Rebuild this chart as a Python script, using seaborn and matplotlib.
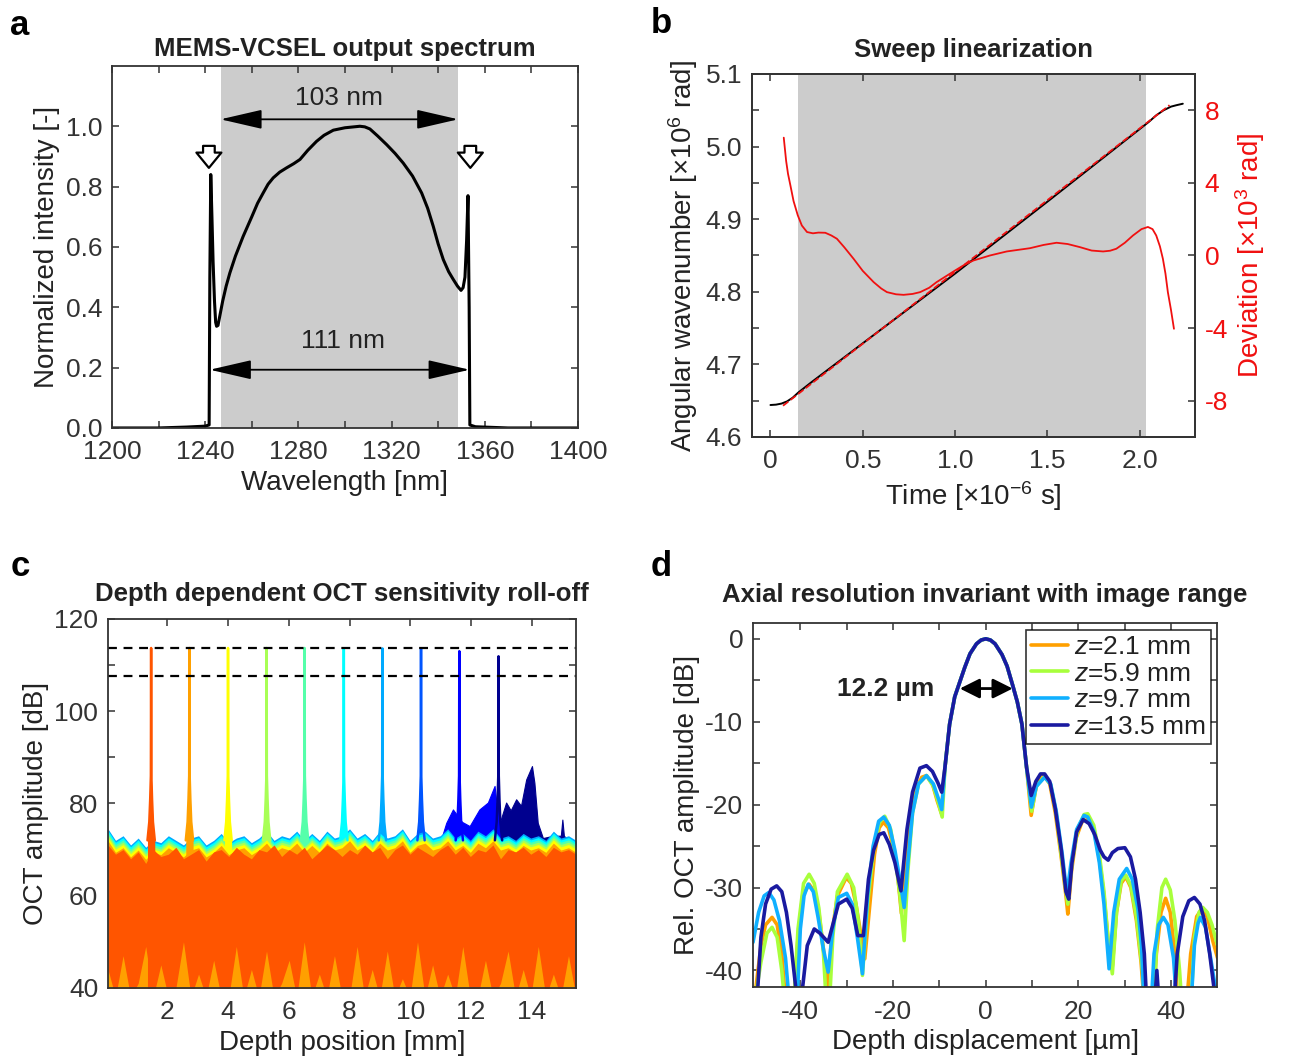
import numpy as np
import pandas as pd
import matplotlib
matplotlib.use("Agg")
import matplotlib.pyplot as plt
import seaborn as sns

# ---------------- data ----------------
# (a) MEMS-VCSEL output spectrum
spec_wl = [1200, 1220, 1232, 1240, 1241.7, 1242.0, 1242.4, 1242.9, 1243.4, 1244.0, 1244.5, 1244.9,
           1245.5, 1246.0, 1247.5, 1249.0, 1250.6, 1253.0, 1256.3, 1260.0, 1262.5, 1264.9, 1267.0,
           1269.2, 1272.0, 1274.9, 1278.0, 1280.7, 1284.0, 1287.8, 1291.0, 1295.0, 1300.0, 1306.4,
           1308.5, 1310.7, 1314.0, 1317.9, 1321.5, 1325.0, 1329.0, 1332.9, 1335.5, 1337.9, 1340.0,
           1342.2, 1344.5, 1346.5, 1348.3, 1349.8, 1350.7, 1351.5, 1352.2, 1352.8, 1353.3, 1353.6,
           1356.0, 1370.0, 1400.0]
spec_int = [0.0, 0.0, 0.003, 0.006, 0.01, 0.50, 0.84, 0.70, 0.55, 0.42, 0.35, 0.337,
            0.34, 0.36, 0.42, 0.47, 0.514, 0.57, 0.635, 0.70, 0.745, 0.779, 0.808,
            0.829, 0.848, 0.862, 0.876, 0.890, 0.92, 0.950, 0.970, 0.987, 0.995, 1.0,
            0.998, 0.991, 0.968, 0.939, 0.91, 0.878, 0.835, 0.779, 0.728, 0.668, 0.61,
            0.558, 0.518, 0.492, 0.47, 0.456, 0.465, 0.50, 0.62, 0.77, 0.40, 0.01,
            0.004, 0.0, 0.0]
shade_a = [1246.6, 1348.6]
span_103 = [1246.6, 1348.6]
span_111 = [1242.0, 1353.5]
marker_wl = [1241.6, 1353.8]

# (b) Sweep linearization
t_wn = [0.0, 0.03, 0.06, 0.09, 0.12, 0.15, 0.18, 0.22, 0.50, 1.00, 1.50, 2.00, 2.05, 2.09,
        2.13, 2.17, 2.20, 2.234]
wn = [4.644, 4.6445, 4.646, 4.649, 4.654, 4.661, 4.667, 4.675, 4.729, 4.825, 4.924, 5.024,
      5.034, 5.043, 5.050, 5.055, 5.057, 5.059]
fit_t = [0.068, 2.162]
fit_wn = [4.643, 5.057]
dev_t = [0.072, 0.085, 0.095, 0.108, 0.125, 0.148, 0.17, 0.198, 0.23, 0.26, 0.297, 0.33, 0.36,
         0.40, 0.45, 0.50, 0.559, 0.60, 0.631, 0.68, 0.721, 0.77, 0.811, 0.86, 0.90, 0.95,
         1.0, 1.05, 1.099, 1.19, 1.28, 1.35, 1.406, 1.48, 1.55, 1.61, 1.676, 1.74, 1.802,
         1.84, 1.874, 1.92, 1.964, 2.01, 2.045, 2.07, 2.09, 2.11, 2.126, 2.14, 2.153, 2.17, 2.186]
dev_val = [6.49, 5.2, 4.5, 3.86, 3.0, 2.21, 1.65, 1.29, 1.22, 1.26, 1.25, 1.1, 0.92,
           0.45, -0.18, -0.85, -1.47, -1.82, -2.02, -2.14, -2.17, -2.12, -2.02, -1.78, -1.47, -1.15,
           -0.83, -0.52, -0.28, 0.0, 0.22, 0.32, 0.40, 0.58, 0.70, 0.63, 0.46, 0.27, 0.22,
           0.26, 0.37, 0.70, 1.10, 1.45, 1.57, 1.45, 1.10, 0.5, -0.18, -1.0, -2.02, -3.0, -4.04]
shade_b = [0.148, 2.032]

# (c) Depth dependent sensitivity roll-off
peak_depth = [1.47, 2.73, 4.00, 5.27, 6.52, 7.81, 9.08, 10.35, 11.61, 12.90]
peak_db = [113.7, 113.7, 113.7, 113.7, 113.7, 113.6, 113.6, 113.5, 113.0, 111.9]
series_colors = ['#ff5500', '#ffa000', '#ffff00', '#a8ff55', '#55ffaa',
                 '#00ffff', '#00aaff', '#0055ff', '#0000ff', '#00008f']
rolloff_db = [113.7, 107.7]
noise_top_main = [71.0, 69.0, 70.0, 68.0, 69.5, 67.0, 70.0, 68.5, 69.0,
                  70.5, 68.0, 69.0, 70.0, 67.5, 69.5, 70.0, 68.5, 70.5,
                  69.0, 68.0, 70.0, 69.5, 71.0, 68.5, 70.0, 69.0, 70.5,
                  68.0, 69.5, 71.0, 70.0, 68.5, 70.0, 69.0, 71.0, 69.5,
                  70.5, 68.0, 70.0, 71.0, 69.0, 70.5, 69.5, 68.5, 70.0,
                  71.0, 69.0, 70.5, 68.5, 70.0, 69.5, 71.0, 68.0, 70.0,
                  69.5, 70.5, 69.0, 70.0, 68.5, 70.5, 69.5, 70.0, 69.0]
noise_top_upper = [74.5, 72.0, 73.0, 71.0, 72.5, 70.5, 72.0, 71.5, 73.0,
                   72.0, 71.0, 72.5, 73.0, 71.0, 72.0, 73.5, 71.5, 72.5,
                   73.0, 71.5, 72.5, 74.0, 72.0, 73.0, 72.5, 74.0, 72.0,
                   73.5, 72.0, 74.0, 72.5, 73.0, 74.5, 72.5, 73.5, 72.0,
                   74.0, 72.5, 73.0, 74.5, 72.0, 73.5, 74.0, 72.5, 73.0,
                   74.5, 72.5, 73.5, 72.0, 74.0, 73.0, 74.5, 72.5, 73.0,
                   72.0, 73.5, 72.5, 73.0, 72.0, 74.0, 72.5, 73.0, 72.0]
noise_low_main = [44, 38, 47, 38, 41, 49, 38, 45, 38,
                  40, 50, 38, 43, 38, 46, 38, 38, 49,
                  38, 44, 38, 48, 38, 41, 46, 38, 50,
                  38, 43, 38, 47, 38, 38, 49, 38, 44,
                  38, 48, 38, 42, 38, 50, 38, 45, 38,
                  43, 38, 49, 38, 38, 46, 38, 41, 48,
                  38, 44, 38, 49, 38, 43, 38, 47, 38]
upper_drop = [0.0, 2.6, 1.9, 1.4, 0.9, 0.4, 0.0, 0.6, 0.3, 1.0]
spike_offsets = [-0.12, -0.06, -0.03, -0.008, 0.0, 0.008, 0.03, 0.06, 0.12]
spike_base_db = [72, 76, 81, 86, None, 86, 81, 76, 72]
blue_bump_depth = [11.0, 11.18, 11.4, 11.7, 11.95, 12.27, 12.55, 12.77, 12.95]
blue_bump_db = [72.0, 75.8, 78.7, 76.0, 75.1, 78.7, 80.2, 83.8, 73.0]
navy_bump_depth = [12.95, 13.15, 13.3, 13.48, 13.64, 13.81, 14.0, 14.08, 14.19, 14.36, 14.7, 14.95,
                   15.0, 15.05, 15.2]
navy_bump_db = [76.0, 80.2, 78.5, 80.9, 79.5, 85.2, 88.1, 84.5, 75.8, 72.5, 73.0, 73.0, 76.5, 73.0, 72.0]

# (d) Axial resolution
ml_x = [-8.8, -7.8, -6.7, -5.6, -4.5, -3.4, -2.0, -1.0, 0.0, 1.0, 2.0, 3.5, 4.6, 5.8, 6.8, 7.8, 8.8]
ml_y = [-15.5, -10.3, -7.0, -5.2, -3.4, -1.8, -0.6, -0.15, 0.0, -0.15, -0.6, -1.9, -3.3, -5.6, -7.6, -10.3, -15.5]

z21_lx = [-50.2, -48.5, -47.5, -46.1, -45.0, -44.0, -43.0, -41.5, -40.5, -39.5, -38.1, -37.0, -36.0,
          -35.0, -34.0, -33.3, -32.0, -30.1, -29.0, -28.0, -27.0, -26.1, -25.0, -24.0, -23.0, -22.1,
          -21.0, -20.0, -19.0, -18.2, -17.0, -16.0, -15.0, -13.8, -12.8, -11.5, -10.5, -9.6]
z21_ly = [-45, -37, -34.5, -33.6, -34.5, -38, -45, -45, -36, -31, -29.6, -30.5, -33,
          -37.5, -43, -36, -31, -28.8, -29.5, -32, -35.5, -38.6, -32, -26, -22.8, -22.1,
          -22.8, -25, -28.5, -33.1, -26, -21, -18, -16.7, -16.5, -17.5, -19.5, -21.0]
z21_rx = [9.8, 10.8, 11.8, 12.7, 13.8, 15.0, 16.2, 17.3, 17.7, 18.5, 19.5, 20.8, 22.0, 23.3, 24.5,
          25.5, 26.5, 27.3, 28.2, 29.2, 30.2, 31.3, 32.5, 33.5, 34.3, 36.0, 36.8, 37.8, 38.8,
          39.8, 40.8, 41.5, 43.2, 44.2, 45.5, 46.6, 47.8, 49.0, 50.0]
z21_ry = [-21.3, -18, -16.7, -16.6, -17.5, -21, -26, -31, -33.2, -28, -24, -22, -21.8, -23, -26.5,
          -31, -37, -39.5, -33, -29.5, -28.7, -30, -34, -39, -45, -45, -38, -33, -31.3,
          -33, -38, -45, -45, -38, -33.5, -32.6, -33.5, -36.5, -38.5]

z59_lx = [-50.2, -48.5, -47.2, -46.1, -45.0, -44.0, -43.2, -41.5, -40.5, -39.3, -38.1, -37.0, -36.0,
          -35.0, -34.3, -33.8, -33.0, -32.0, -29.9, -28.5, -27.5, -26.6, -25.5, -24.2, -23.0,
          -21.8, -20.5, -19.5, -18.5, -17.6, -16.8, -15.8, -14.5, -12.8, -11.3, -10.2, -9.4]
z59_ly = [-45, -39, -35.5, -34.8, -36, -40, -45, -45, -35, -29.5, -28.4, -29.5, -32.5,
          -38, -45, -45, -36, -30.5, -28.4, -30, -34, -40.6, -32, -25.5, -22.2,
          -21.4, -23, -26.5, -31, -36.4, -28, -21, -17.5, -16.5, -17.8, -19.8, -21.5]
z59_rx = [9.9, 10.9, 12.7, 14.0, 15.2, 16.5, 17.7, 18.6, 19.8, 21.2, 22.0, 23.3, 24.5, 25.5,
          26.5, 27.3, 28.2, 29.2, 30.2, 31.3, 32.5, 33.8, 34.5, 36.2, 37.0, 38.0, 38.8, 39.8,
          40.8, 41.8, 42.4, 44.2, 45.0, 46.0, 46.8, 47.8, 48.8, 49.4, 50.0]
z59_ry = [-20.8, -17.8, -16.6, -17.6, -21, -27, -32, -27, -23, -21.2, -21.1, -22.5, -26, -30.5,
          -37, -40.4, -33, -29.2, -28.5, -29.8, -33.5, -40, -45, -45, -35, -30, -29.0, -30.3,
          -34, -40, -45, -45, -36, -33, -32.4, -33, -34.5, -35.8, -37]

z97_lx = [-50.2, -49.0, -47.8, -46.8, -45.7, -44.5, -43.2, -42.2, -40.8, -40.0, -39.2, -38.3,
          -37.2, -36.2, -35.0, -34.0, -33.0, -31.8, -30.0, -28.8, -27.7, -26.6, -25.5, -24.3,
          -23.1, -22.0, -20.8, -19.6, -18.4, -17.6, -16.8, -15.8, -14.5, -12.8, -11.3, -10.2, -9.5]
z97_ly = [-36.6, -33, -31, -30.6, -31.5, -34, -38.5, -45, -45, -35, -31, -29.6,
          -30.5, -33.5, -37.5, -40.2, -35, -31.2, -30.7, -32, -36, -40.4, -31, -25,
          -22, -21.5, -22.5, -25.5, -29.5, -32.4, -27, -21, -17.5, -16.5, -17.5, -19.3, -20.6]
z97_rx = [9.85, 10.9, 12.7, 14.0, 15.2, 16.5, 17.5, 18.4, 19.6, 21.2, 22.0, 23.3, 24.5, 25.5,
          26.6, 27.6, 28.8, 30.4, 31.6, 32.8, 33.6, 34.2, 35.6, 36.3, 37.3, 38.3, 39.3, 40.5,
          41.3, 44.2, 45.0, 45.8, 46.3, 47.4, 48.5, 49.5, 50.0]
z97_ry = [-20.3, -17.8, -16.7, -17.5, -20.8, -26, -30.8, -27, -23, -21.3, -21.5, -23.2, -27, -32,
          -39.8, -33, -29, -27.7, -29, -32.5, -37, -45, -45, -38, -34.5, -33.6, -34.5, -38.5,
          -45, -45, -37, -34.3, -33.6, -34.8, -38.5, -42, -44]

z135_lx = [-50.2, -49.5, -48.5, -47.5, -46.3, -45.1, -44.0, -43.0, -42.0, -41.0, -40.8, -40.2,
           -39.5, -38.5, -37.0, -35.8, -34.0, -33.0, -31.8, -30.0, -28.8, -27.6, -26.4, -25.3,
           -24.2, -23.0, -22.0, -20.8, -19.6, -18.3, -17.0, -15.8, -14.2, -12.8, -11.5, -10.3, -9.5]
z135_ly = [-45, -45, -36, -32, -30.2, -29.8, -30.5, -33, -37, -42, -45, -45,
           -42, -37, -35.0, -35.5, -36.6, -34.5, -32, -31.4, -32.5, -35.8, -35.8, -29,
           -25.5, -23.6, -23.4, -24.8, -27, -30.4, -23, -18.5, -15.6, -15.3, -16, -17.4, -18.5]
z135_rx = [9.8, 10.8, 11.8, 12.7, 13.8, 15.0, 16.3, 17.3, 17.9, 18.6, 19.6, 21.0, 22.3, 23.5,
           24.7, 25.5, 26.4, 27.3, 28.5, 30.0, 31.2, 32.3, 33.3, 34.2, 34.8, 36.3, 36.9, 37.5,
           40.5, 41.3, 42.5, 43.8, 45.0, 46.2, 47.2, 48.3, 49.2, 49.7]
z135_ry = [-18.9, -17.2, -16.3, -16.3, -17.2, -20.5, -25.5, -30.5, -31.4, -27, -23.3, -21.8, -22.3,
           -23.6, -25.5, -26.3, -26.7, -25.8, -25.3, -25.2, -26.3, -29, -33, -38, -45, -45, -40,
           -45, -45, -38, -33.5, -31.6, -31.2, -32, -34, -38, -42, -45]

d_labels = ['$z$=2.1 mm', '$z$=5.9 mm', '$z$=9.7 mm', '$z$=13.5 mm']
d_colors = ['#ffa000', '#a8ff3c', '#10b0ff', '#1a1aa0']
fwhm_span = [-5.6, 5.8]

# ---------------- style ----------------
sns.set_theme(style="white")
plt.rcParams.update({
    'font.family': ['Liberation Sans', 'DejaVu Sans'],
    'font.size': 19,
    'axes.titlesize': 18.5,
    'axes.titleweight': 'bold',
    'axes.titlepad': 7,
    'axes.labelsize': 20,
    'xtick.labelsize': 19,
    'ytick.labelsize': 19,
    'xtick.direction': 'in', 'ytick.direction': 'in',
    'xtick.top': True, 'ytick.right': True,
    'xtick.bottom': True, 'ytick.left': True,
    'xtick.major.size': 5, 'ytick.major.size': 5,
    'xtick.major.width': 1.1, 'ytick.major.width': 1.1,
    'xtick.major.pad': 9, 'ytick.major.pad': 7,
    'axes.edgecolor': '#333333', 'axes.linewidth': 1.3,
    'xtick.color': '#333333', 'ytick.color': '#333333',
    'text.color': '#222222', 'axes.labelcolor': '#222222',
    'mathtext.fontset': 'custom',
    'mathtext.rm': 'Liberation Sans',
    'mathtext.it': 'Liberation Sans:italic',
    'mathtext.bf': 'Liberation Sans:bold',
    'axes.unicode_minus': False,
})

fig = plt.figure(figsize=(12.93, 10.58), dpi=100)
ax_a = fig.add_axes([0.0866, 0.5955, 0.3604, 0.3422])
ax_b = fig.add_axes([0.5816, 0.5870, 0.3426, 0.3431])
ax_c = fig.add_axes([0.0835, 0.0662, 0.3620, 0.3488])
ax_d = fig.add_axes([0.5824, 0.0671, 0.3589, 0.3440])

# ---------------- (a) ----------------
ax_a.axvspan(shade_a[0], shade_a[1], color='#cccccc', lw=0, zorder=0)
sns.lineplot(x=spec_wl, y=spec_int, ax=ax_a, color='black', lw=2.2, sort=False, estimator=None)
ax_a.set_xlim(1200, 1400)
ax_a.set_ylim(0, 1.2)
xt = np.arange(1200, 1401, 20)
ax_a.set_xticks(xt)
ax_a.set_xticklabels([str(v) if v % 40 == 0 else '' for v in xt])
yt = np.arange(0, 1.01, 0.2)
ax_a.set_yticks(yt)
ax_a.set_yticklabels([f'{v:.1f}' for v in yt])
arr = dict(arrowstyle='<|-|>,head_length=1.3,head_width=0.3', mutation_scale=20,
           color='black', lw=1.3, shrinkA=0, shrinkB=0)
ax_a.annotate('', xy=(span_103[0], 1.023), xytext=(span_103[1], 1.023), arrowprops=arr)
ax_a.annotate('', xy=(span_111[0], 0.193), xytext=(span_111[1], 0.193), arrowprops=arr)
ax_a.text(1297.4, 1.095, '103 nm', ha='center', va='center', fontsize=19)
ax_a.text(1299.3, 0.287, '111 nm', ha='center', va='center', fontsize=19)
for wl in marker_wl:
    ax_a.annotate('', xy=(wl, 0.862), xytext=(wl, 0.935),
                  arrowprops=dict(arrowstyle='simple,head_length=0.55,head_width=0.9,tail_width=0.42',
                                  fc='white', ec='black', lw=1.6, mutation_scale=20,
                                  shrinkA=0, shrinkB=0))
ax_a.set_title('MEMS-VCSEL output spectrum', pad=7)
ax_a.set_xlabel('Wavelength [nm]')
ax_a.set_ylabel('Normalized intensity [-]')

# ---------------- (b) ----------------
red = '#f01010'
ax_b.axvspan(shade_b[0], shade_b[1], color='#cccccc', lw=0, zorder=0)
sns.lineplot(x=t_wn, y=wn, ax=ax_b, color='black', lw=1.4, sort=False, estimator=None)
sns.lineplot(x=fit_t, y=fit_wn, ax=ax_b, color=red, lw=1.3, linestyle='--', sort=False, estimator=None)
ax_b.set_xlim(-0.1, 2.3)
ax_b.set_ylim(4.6, 5.1)
ax_b.set_xticks([0, 0.5, 1.0, 1.5, 2.0])
ax_b.set_xticklabels(['0', '0.5', '1.0', '1.5', '2.0'])
ybt = np.arange(4.6, 5.101, 0.1)
ax_b.set_yticks(ybt)
ax_b.set_yticklabels([f'{v:.1f}' for v in ybt])
ax_b.set_title('Sweep linearization', pad=12)
ax_b.set_xlabel(r'Time [×10$^{\mathregular{-6}}$ s]')
ax_b.set_ylabel(r'Angular wavenumber [×10$^{\mathregular{6}}$ rad]')
ax_b2 = ax_b.twinx()
sns.lineplot(x=dev_t, y=dev_val, ax=ax_b2, color=red, lw=1.3, sort=False, estimator=None)
ax_b2.set_ylim(-10, 10)
ax_b2.set_yticks([-8, -4, 0, 4, 8])
ax_b2.set_yticklabels(['-8', '-4', '0', '4', '8'])
ax_b2.tick_params(axis='y', left=True, right=True, labelleft=False, labelright=True,
                  labelcolor=red, direction='in', pad=7)
ax_b2.set_ylabel(r'Deviation [×10$^{\mathregular{3}}$ rad]', color=red)
ax_b2.grid(False)

# ---------------- (c) ----------------
noise_depth = np.linspace(0.05, 15.45, len(noise_top_main))
for i in reversed(range(len(peak_depth))):
    col = series_colors[i]
    if i == 9:
        ax_c.fill_between(navy_bump_depth, 38, navy_bump_db, color=col, lw=0.8, edgecolor=col)
    if i == 8:
        ax_c.fill_between(blue_bump_depth, 38, blue_bump_db, color=col, lw=0.8, edgecolor=col)
    if i == 0:
        ax_c.fill_between(noise_depth, noise_low_main, noise_top_main, color=col, lw=0)
    else:
        ax_c.fill_between(noise_depth, 38, np.array(noise_top_upper) - upper_drop[i],
                          color=col, lw=0)
    sx = [peak_depth[i] + o for o in spike_offsets]
    sy = [peak_db[i] if v is None else v for v in spike_base_db]
    ax_c.fill_between(sx, 38, sy, color=col, lw=0)
    ax_c.plot(sx, sy, color=col, lw=1.8)
for r in rolloff_db:
    ax_c.axhline(r, color='black', lw=1.6, ls=(0, (4, 3)))
ax_c.set_xlim(0.05, 15.45)
ax_c.set_ylim(40, 120)
ax_c.set_xticks(np.arange(2, 15, 2))
yct = np.arange(40, 121, 10)
ax_c.set_yticks(yct)
ax_c.set_yticklabels([str(v) if v % 20 == 0 else '' for v in yct])
ax_c.set_title('Depth dependent OCT sensitivity roll-off', pad=13)
ax_c.set_xlabel('Depth position [mm]')
ax_c.set_ylabel('OCT amplitude [dB]')
for s in ax_c.spines.values():
    s.set_zorder(5)

# ---------------- (d) ----------------
curves = [
    (z21_lx + ml_x + z21_rx, z21_ly + ml_y + z21_ry),
    (z59_lx + ml_x + z59_rx, z59_ly + ml_y + z59_ry),
    (z97_lx + ml_x + z97_rx, z97_ly + ml_y + z97_ry),
    (z135_lx + ml_x + z135_rx, z135_ly + ml_y + z135_ry),
]
frames = []
for lab, (cx, cy) in zip(d_labels, curves):
    frames.append(pd.DataFrame({'x': cx, 'y': cy, 'curve': lab}))
df_d = pd.concat(frames, ignore_index=True)
sns.lineplot(data=df_d, x='x', y='y', hue='curve', hue_order=d_labels,
             palette=dict(zip(d_labels, d_colors)), sort=False, estimator=None,
             lw=2.6, ax=ax_d)
ax_d.set_xlim(-50.2, 49.9)
ax_d.set_ylim(-42, 1.9)
xdt = np.arange(-40, 41, 10)
ax_d.set_xticks(xdt)
ax_d.set_xticklabels([str(v) if v % 20 == 0 else '' for v in xdt])
ydt = np.arange(-40, 1, 5)
ax_d.set_yticks(ydt)
ax_d.set_yticklabels([str(v) if v % 10 == 0 else '' for v in ydt])
ax_d.annotate('', xy=(fwhm_span[0], -6.0), xytext=(fwhm_span[1], -6.0),
              arrowprops=dict(arrowstyle='<|-|>,head_length=0.6,head_width=0.3', mutation_scale=20,
                              color='black', lw=2.0, shrinkA=0, shrinkB=0))
ax_d.text(-21.5, -6.0, '12.2 µm', ha='center', va='center', fontsize=19, fontweight='bold')
leg = ax_d.legend(loc='upper right', bbox_to_anchor=(1.0, 1.0), borderaxespad=0.25,
                  fontsize=19, handlelength=1.4, handletextpad=0.2, labelspacing=0.1,
                  borderpad=0.2, frameon=True, fancybox=False, edgecolor='black')
leg.get_frame().set_linewidth(1.2)
ax_d.set_title('Axial resolution invariant with image range', pad=15)
ax_d.set_xlabel('Depth displacement [µm]')
ax_d.set_ylabel('Rel. OCT amplitude [dB]')

# ---------------- panel letters ----------------
for lab, x, y in [('a', 0.008, 0.967), ('b', 0.503, 0.969), ('c', 0.008, 0.456), ('d', 0.503, 0.456)]:
    fig.text(x, y, lab, fontsize=25, fontweight='bold', color='black', va='baseline')

fig.savefig('out.png', dpi=100)
